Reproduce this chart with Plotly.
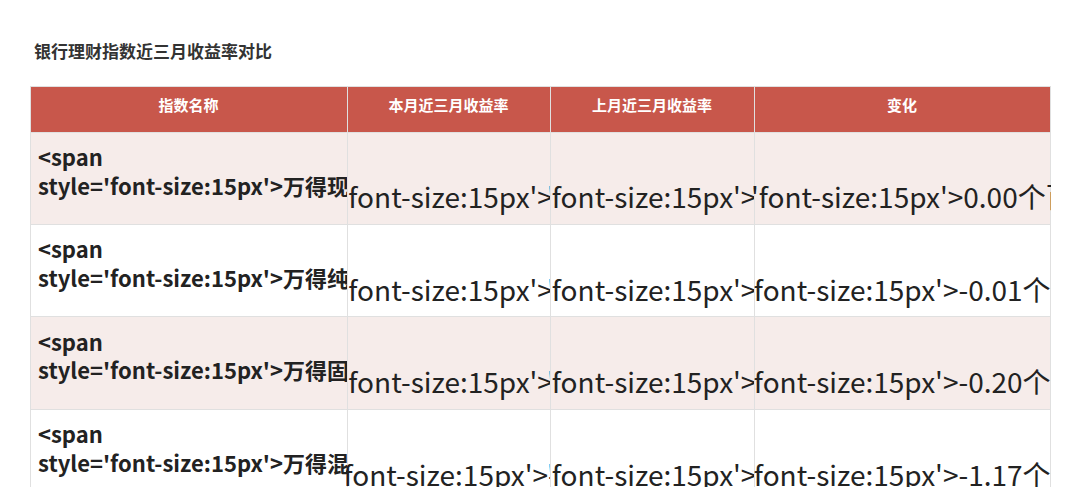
import plotly.graph_objects as go

title = "银行理财指数近三月收益率对比"
headers = ["指数名称", "本月近三月收益率", "上月近三月收益率", "变化"]
names = ["万得现金管理类理财指数", "万得纯债固收类理财指数", "万得固收+类理财指数",
         "万得混合类理财指数", "万得权益类理财指数", "中债-综合财富(总值)指数", "沪深300"]
this_month = ["0.27%", "0.25%", "0.39%", "-0.23%", "-6.22%", "1.10%", "-4.62%"]
last_month = ["0.27%", "0.26%", "0.59%", "0.94%", "4.26%", "1.21%", "10.85%"]
change = ["0.00个百分点", "-0.01个百分点", "-0.20个百分点", "-1.17个百分点",
          "-10.48个百分点", "-0.11个百分点", "-15.47个百分点"]

W, H = 1080, 487
OFF = 8  # page body margin
font = "Noto Sans CJK SC"
fills = ["#F6ECEA" if i % 2 == 0 else "#FFFFFF" for i in range(len(names))]

def sp(v, bold=False):
    t = f"<span style='font-size:15px'>{v}</span>"
    return f"<b>{t}</b>" if bold else t

fig = go.Figure(go.Table(
    domain=dict(x=[(30 - OFF) / W, (1050 - OFF) / W], y=[0, 1 - (86 - OFF) / H]),
    columnwidth=[317, 203, 204, 296],
    header=dict(values=[f"<b>{h}</b>" for h in headers],
                fill_color="#C8574B", line_color="#E0E0E0",
                font=dict(family=font, size=15, color="white"),
                align="center", height=46),
    cells=dict(values=[[sp(n, True) for n in names], [sp(v) for v in this_month],
                       [sp(v) for v in last_month], [sp(v) for v in change]],
               fill_color=[fills] * 4, line_color="#E0E0E0",
               font=dict(family=font, size=[22, 28, 28, 28], color="#222222"),
               align=["left", "center", "center", "center"], height=46.6),
))
fig.add_annotation(text=f"<b>{title}</b>", x=(32 - OFF) / W, y=1 - (50 - OFF) / H,
                   xref="paper", yref="paper",
                   xanchor="left", yanchor="middle", showarrow=False,
                   font=dict(family=font, size=17, color="#333333"))
fig.update_layout(width=W, height=H, margin=dict(l=0, r=0, t=0, b=0),
                  paper_bgcolor="white", plot_bgcolor="white")
fig.write_html("out.html")
